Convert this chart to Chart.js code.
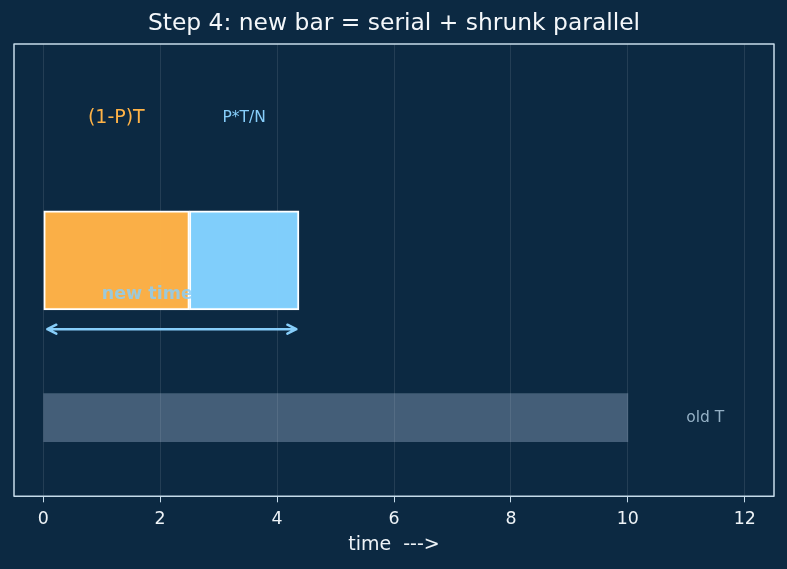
<!DOCTYPE html>
<html>
<head>
<meta charset="utf-8">
<script src="https://cdn.jsdelivr.net/npm/chart.js@4/dist/chart.umd.min.js"></script>
<style>
  html, body { margin: 0; padding: 0; background: #0c2942; }
  #wrap { width: 787px; height: 569px; }
</style>
</head>
<body>
<div id="wrap"><canvas id="stepChart"></canvas></div>
<script>
// time axis
const xTicks = [0, 2, 4, 6, 8, 10, 12];
const xRange = [-0.5, 12.5];
const yRange = [-0.8, 3.8];

// new bar: serial part + shrunk parallel part
const serialSpan = [0, 2.5];
const parallelSpan = [2.5, 4.375];
const newBarRow = 1.6;

// old bar
const oldSpan = [0, 10];
const oldBarRow = 0;

// arrow under the new bar
const arrowSpan = [0.07, 4.33];
const arrowRow = 0.9;

// annotations
const noteTexts = ['(1-P)T', 'P*T/N', 'new time', 'old T'];
const noteX = [1.25, 3.4375, 1.0, 11.0];
const noteY = [3.05, 3.05, 1.25, 0];

const BG = '#0c2942';
const LINE = '#c6dbea';
const FONT = '"DejaVu Sans", sans-serif';

const noteStyles = [
    { color: '#ffb347', size: 19, weight: 'normal', align: 'center' },
    { color: '#87cefa', size: 15.5, weight: 'normal', align: 'center' },
    { color: 'rgba(135, 206, 250, 0.82)', size: 17.5, weight: 'bold', align: 'left' },
    { color: '#93afc4', size: 15.5, weight: 'normal', align: 'left' }
];

const frameAndNotes = {
    id: 'frameAndNotes',
    beforeDraw(chart) {
        const { ctx } = chart;
        ctx.save();
        ctx.fillStyle = BG;
        ctx.fillRect(0, 0, chart.width, chart.height);
        ctx.restore();
    },
    afterDatasetsDraw(chart) {
        const { ctx, chartArea } = chart;
        const x = chart.scales.x;
        const y = chart.scales.y;

        // double-headed arrow
        const ax1 = x.getPixelForValue(arrowSpan[0]);
        const ax2 = x.getPixelForValue(arrowSpan[1]);
        const ay = y.getPixelForValue(arrowRow);
        ctx.save();
        ctx.strokeStyle = '#87cefa';
        ctx.lineWidth = 2.5;
        ctx.lineCap = 'round';
        ctx.lineJoin = 'round';
        ctx.beginPath();
        ctx.moveTo(ax1, ay);
        ctx.lineTo(ax2, ay);
        ctx.moveTo(ax1 + 9, ay - 4.5);
        ctx.lineTo(ax1, ay);
        ctx.lineTo(ax1 + 9, ay + 4.5);
        ctx.moveTo(ax2 - 9, ay - 4.5);
        ctx.lineTo(ax2, ay);
        ctx.lineTo(ax2 - 9, ay + 4.5);
        ctx.stroke();

        // text notes
        ctx.textBaseline = 'middle';
        noteTexts.forEach((t, i) => {
            const s = noteStyles[i];
            ctx.font = `${s.weight} ${s.size}px ${FONT}`;
            ctx.fillStyle = s.color;
            ctx.textAlign = s.align;
            ctx.fillText(t, x.getPixelForValue(noteX[i]), y.getPixelForValue(noteY[i]));
        });

        // axes frame
        ctx.strokeStyle = LINE;
        ctx.lineWidth = 1.5;
        ctx.lineCap = 'butt';
        ctx.strokeRect(chartArea.left, chartArea.top,
            chartArea.right - chartArea.left, chartArea.bottom - chartArea.top);
        ctx.restore();
    }
};

const ctx = document.getElementById('stepChart').getContext('2d');
new Chart(ctx, {
    type: 'bar',
    data: {
        datasets: [
            {
                label: 'old T',
                data: [{ x: oldSpan, y: oldBarRow }],
                backgroundColor: 'rgba(176, 196, 222, 0.35)',
                borderWidth: 0,
                barThickness: 48
            },
            {
                label: '(1-P)T',
                data: [{ x: serialSpan, y: newBarRow }],
                backgroundColor: 'rgba(255, 179, 71, 0.98)',
                borderColor: '#ffffff',
                borderWidth: 2,
                borderSkipped: false,
                barThickness: 99
            },
            {
                label: 'P*T/N',
                data: [{ x: parallelSpan, y: newBarRow }],
                backgroundColor: 'rgba(131, 210, 255, 0.98)',
                borderColor: '#ffffff',
                borderWidth: 2,
                borderSkipped: false,
                barThickness: 99
            }
        ]
    },
    options: {
        indexAxis: 'y',
        responsive: true,
        maintainAspectRatio: false,
        animation: false,
        grouped: false,
        layout: {
            padding: { left: 14, right: 13, top: 0, bottom: 12.5 }
        },
        plugins: {
            legend: { display: false },
            tooltip: { enabled: false },
            title: {
                display: true,
                text: 'Step 4: new bar = serial + shrunk parallel',
                color: '#f4f7fa',
                font: { family: FONT, size: 23.4, weight: 'normal' },
                padding: { top: 10, bottom: 6 }
            }
        },
        scales: {
            x: {
                type: 'linear',
                min: xRange[0],
                max: xRange[1],
                afterBuildTicks: scale => {
                    scale.ticks = xTicks.map(v => ({ value: v }));
                },
                grid: {
                    color: 'rgba(255, 255, 255, 0.1)',
                    tickColor: LINE,
                    tickLength: 6,
                    lineWidth: 1
                },
                border: { display: false },
                ticks: {
                    color: '#eef3f7',
                    padding: 7,
                    maxRotation: 0,
                    font: { family: FONT, size: 17.4 }
                },
                title: {
                    display: true,
                    text: 'time  --->',
                    color: '#eef3f7',
                    font: { family: FONT, size: 19 },
                    padding: { top: -3.5, bottom: 0 }
                }
            },
            y: {
                type: 'linear',
                display: false,
                offset: false,
                min: yRange[0],
                max: yRange[1]
            }
        }
    },
    plugins: [frameAndNotes]
});
</script>
</body>
</html>
